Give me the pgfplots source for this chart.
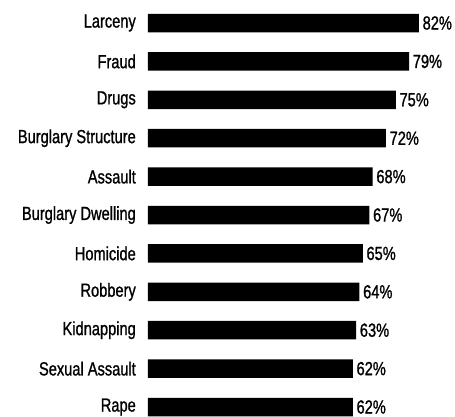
\documentclass[border=0pt]{standalone}
\usepackage{fontspec}
\setmainfont{Liberation Sans}[FakeStretch=0.77, FakeBold=1]
\usepackage{pgfplots}
\pgfplotsset{compat=1.18}

\begin{document}
\begin{tikzpicture}
\useasboundingbox (0,0) rectangle (455pt,417pt);
\begin{axis}[
  at={(148pt,0pt)}, anchor=south west,
  scale only axis, width=307pt, height=417pt,
  xbar, bar width=18.5pt, bar shift=0pt,
  xmin=0, xmax=92.9,
  ymin=-0.599, ymax=10.26, y dir=reverse,
  axis line style={draw=none}, tick style={draw=none},
  major tick length=0pt,
  xtick=\empty,
  ytick={0,...,10},
  yticklabels={Larceny,Fraud,Drugs,Burglary Structure,Assault,Burglary Dwelling,Homicide,Robbery,Kidnapping,Sexual Assault,Rape},
  yticklabel style={font=\fontsize{19}{22}\selectfont, anchor=east, inner sep=0pt, xshift=-12pt},
  /pgf/number format/assume math mode=true,
  point meta=x,
  nodes near coords={\pgfmathprintnumber{\pgfplotspointmeta}\%},
  every node near coord/.append style={font=\fontsize{19}{22}\selectfont, anchor=west, inner sep=0pt, xshift=3.5pt},
  clip=false,
]
\addplot[fill=black, draw=none] coordinates {
  (82,0) (79,1) (75,2) (72,3) (68,4) (67,5) (65,6) (64,7) (63,8) (62,9) (62,10)};
\end{axis}
\end{tikzpicture}
\end{document}
